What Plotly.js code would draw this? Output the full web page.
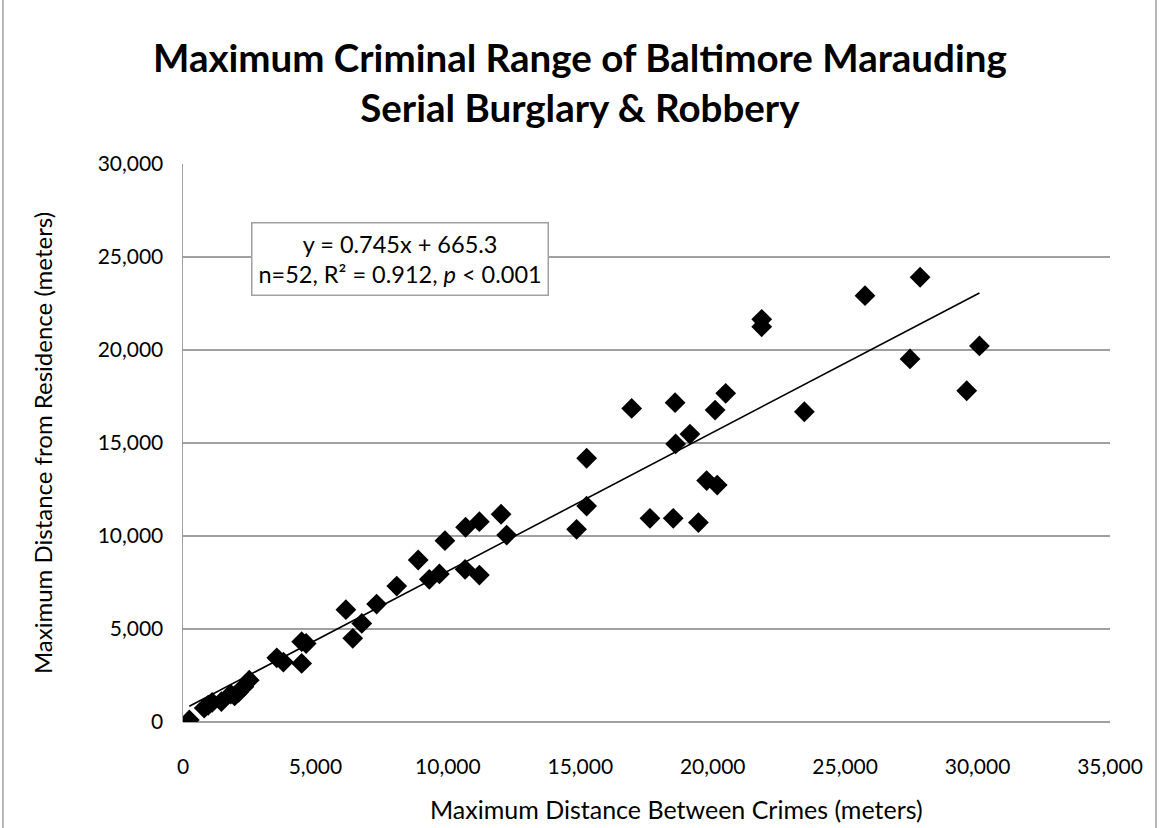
<!DOCTYPE html>
<html>
<head>
<meta charset="utf-8">
<script src="https://cdn.plot.ly/plotly-3.0.1.min.js"></script>
<style>html,body{margin:0;padding:0;background:#fff;}#chart{width:1164px;height:828px;}</style>
</head>
<body>
<div id="chart"></div>
<script>
// Maximum distance between crimes (m)
const distBetween = [
  238, 800, 950, 1100, 1450, 1800, 1950, 2100, 2300, 2500,
  3540, 3790, 4480, 4480, 4650,
  6150, 6410, 6750, 7310, 8070, 8880, 9300, 9680, 9890, 10650, 10670, 11190, 11190, 12010, 12220,
  14860, 15240, 15240, 16940, 17630, 18510, 18580, 18600, 19140, 19460, 19770, 20170, 20090, 20490, 21850, 21850, 23460,
  25750, 27830, 27450, 29590, 30070
];
// Maximum distance from residence (m)
const distResidence = [
  108, 750, 900, 1050, 1100, 1500, 1400, 1600, 1900, 2250,
  3450, 3220, 3150, 4320, 4220,
  6040, 4500, 5300, 6340, 7310, 8710, 7670, 7960, 9750, 8210, 10470, 10770, 7900, 11170, 10050,
  10360, 11610, 14180, 16860, 10950, 10950, 17170, 14950, 15480, 10720, 12980, 12740, 16770, 17670, 21650, 21250, 16680,
  22920, 23910, 19520, 17810, 20220
];
// Regression: y = 0.745x + 665.3
const slope = 0.745;
const intercept = 665.3;
const xMin = Math.min(...distBetween), xMax = Math.max(...distBetween);
const fitX = [xMin, xMax];
const fitY = fitX.map(v => slope * v + intercept);

const font = "Lato, 'Open Sans', sans-serif";

const traces = [
  {
    x: fitX, y: fitY, mode: 'lines', type: 'scatter',
    line: {color: '#000000', width: 1.6}, hoverinfo: 'skip', showlegend: false
  },
  {
    x: distBetween, y: distResidence, mode: 'markers', type: 'scatter',
    marker: {symbol: 'diamond', size: 16, color: '#000000'}, showlegend: false
  }
];

const layout = {
  width: 1164, height: 828,
  margin: {l: 183, r: 54, t: 164, b: 106},
  paper_bgcolor: '#ffffff', plot_bgcolor: '#ffffff',
  font: {family: font, color: '#000000', size: 21},
  xaxis: {
    range: [0, 35000], dtick: 5000, tick0: 0, tickformat: ',d',
    showgrid: false, zeroline: false, showline: false,
    ticks: '', ticklabelstandoff: 30, tickfont: {family: font, size: 21, color: '#000'}
  },
  yaxis: {
    range: [0, 30000], dtick: 5000, tick0: 0, tickformat: ',d',
    showgrid: true, gridcolor: '#A0A0A0', gridwidth: 1.5,
    zeroline: true, zerolinecolor: '#A0A0A0', zerolinewidth: 1.5,
    showline: true, linecolor: '#A0A0A0', linewidth: 1.5,
    ticks: '', ticklabelstandoff: 14, tickfont: {family: font, size: 21, color: '#000'},
    title: {text: 'Maximum Distance from Residence (meters)', font: {family: font, size: 24, color: '#000'}, standoff: 38}
  },
  annotations: [
    {
      xref: 'paper', yref: 'paper', x: 0.428, y: 1.147, xanchor: 'center', yanchor: 'middle',
      text: '<b>Maximum Criminal Range of Baltimore Marauding<br>Serial Burglary & Robbery</b>',
      showarrow: false, align: 'center',
      font: {family: font, size: 38.5, color: '#000'}
    },
    {
      xref: 'paper', yref: 'paper', x: 0.532, y: -0.156, xanchor: 'center', yanchor: 'middle',
      text: 'Maximum Distance Between Crimes (meters)',
      showarrow: false, align: 'center',
      font: {family: font, size: 25, color: '#000'}
    },
    {
      xref: 'paper', yref: 'paper', x: 0.234, y: 0.8297, xanchor: 'center', yanchor: 'middle',
      text: 'y = 0.745x + 665.3<br>n=52, R² = 0.912, <i>p</i> < 0.001',
      showarrow: false, align: 'center',
      font: {family: font, size: 23.5, color: '#000'},
      bgcolor: '#ffffff', bordercolor: '#A0A0A0', borderwidth: 1.5, borderpad: 6
    }
  ],
  shapes: [
    {type: 'line', xref: 'paper', yref: 'paper', x0: -0.1942, x1: -0.1942, y0: -0.3, y1: 1.4, line: {color: '#A0A0A0', width: 1.5}},
    {type: 'line', xref: 'paper', yref: 'paper', x0: 1.0496, x1: 1.0496, y0: -0.3, y1: 1.4, line: {color: '#A0A0A0', width: 1.5}}
  ]
};

Plotly.newPlot('chart', traces, layout, {displayModeBar: false, staticPlot: true});
</script>
</body>
</html>
